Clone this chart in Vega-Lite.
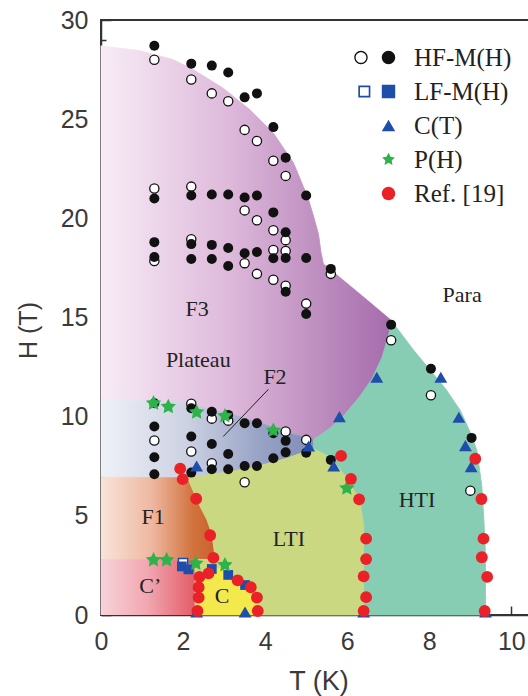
{
  "$schema": "https://vega.github.io/schema/vega-lite/v6.json",
  "width": 435,
  "height": 595,
  "autosize": "none",
  "padding": {"left": 101, "top": 20, "right": 0, "bottom": 81},
  "background": "white",
  "config": {"view": {"stroke": "#333", "strokeWidth": 2}},
  "datasets": {
    "regions": [
      {"r":"F3","i":0,"T":0,"H":10.9},{"r":"F3","i":1,"T":0,"H":28.7},{"r":"F3","i":2,"T":0.95,"H":28.45},{"r":"F3","i":3,"T":1.76,"H":28.0},{"r":"F3","i":4,"T":2.25,"H":27.5},{"r":"F3","i":5,"T":2.98,"H":26.56},{"r":"F3","i":6,"T":3.63,"H":25.47},{"r":"F3","i":7,"T":4.2,"H":24.3},{"r":"F3","i":8,"T":4.69,"H":22.8},{"r":"F3","i":9,"T":4.93,"H":21.6},{"r":"F3","i":10,"T":5.05,"H":21.0},{"r":"F3","i":11,"T":5.18,"H":20.1},{"r":"F3","i":12,"T":5.3,"H":19.2},{"r":"F3","i":13,"T":5.36,"H":18.3},{"r":"F3","i":14,"T":5.42,"H":17.7},{"r":"F3","i":15,"T":5.6,"H":17.4},{"r":"F3","i":16,"T":6.3,"H":16.2},{"r":"F3","i":17,"T":7.07,"H":14.86},{"r":"F3","i":18,"T":7.02,"H":14.2},{"r":"F3","i":19,"T":6.85,"H":13.0},{"r":"F3","i":20,"T":6.6,"H":11.9},{"r":"F3","i":21,"T":6.3,"H":11.0},{"r":"F3","i":22,"T":5.85,"H":9.9},{"r":"F3","i":23,"T":5.5,"H":9.3},{"r":"F3","i":24,"T":5.18,"H":8.85},{"r":"F3","i":25,"T":4.6,"H":9.15},{"r":"F3","i":26,"T":4.0,"H":9.6},{"r":"F3","i":27,"T":3.2,"H":10.1},{"r":"F3","i":28,"T":2.0,"H":10.7},
      {"r":"F2","i":0,"T":0,"H":6.95},{"r":"F2","i":1,"T":0,"H":10.9},{"r":"F2","i":2,"T":2.0,"H":10.7},{"r":"F2","i":3,"T":3.2,"H":10.1},{"r":"F2","i":4,"T":4.0,"H":9.6},{"r":"F2","i":5,"T":4.6,"H":9.15},{"r":"F2","i":6,"T":5.18,"H":8.85},{"r":"F2","i":7,"T":5.18,"H":8.4},{"r":"F2","i":8,"T":4.53,"H":7.9},{"r":"F2","i":9,"T":3.63,"H":7.4},{"r":"F2","i":10,"T":2.9,"H":7.15},{"r":"F2","i":11,"T":2.1,"H":6.92},
      {"r":"F1","i":0,"T":0,"H":2.8},{"r":"F1","i":1,"T":0,"H":6.95},{"r":"F1","i":2,"T":2.1,"H":6.92},{"r":"F1","i":3,"T":2.32,"H":5.86},{"r":"F1","i":4,"T":2.58,"H":4.8},{"r":"F1","i":5,"T":2.7,"H":4.1},{"r":"F1","i":6,"T":2.78,"H":2.9},{"r":"F1","i":7,"T":2.78,"H":2.8},
      {"r":"Cp","i":0,"T":0,"H":0},{"r":"Cp","i":1,"T":0,"H":2.8},{"r":"Cp","i":2,"T":2.29,"H":2.8},{"r":"Cp","i":3,"T":2.29,"H":0},
      {"r":"LTI","i":0,"T":2.1,"H":6.92},{"r":"LTI","i":1,"T":2.9,"H":7.15},{"r":"LTI","i":2,"T":3.63,"H":7.4},{"r":"LTI","i":3,"T":4.53,"H":7.9},{"r":"LTI","i":4,"T":5.18,"H":8.4},{"r":"LTI","i":5,"T":5.59,"H":7.98},{"r":"LTI","i":6,"T":5.99,"H":6.97},{"r":"LTI","i":7,"T":6.32,"H":5.8},{"r":"LTI","i":8,"T":6.42,"H":4.5},{"r":"LTI","i":9,"T":6.42,"H":0},{"r":"LTI","i":10,"T":2.29,"H":0},{"r":"LTI","i":11,"T":2.29,"H":2.8},{"r":"LTI","i":12,"T":2.78,"H":2.8},{"r":"LTI","i":13,"T":2.78,"H":2.9},{"r":"LTI","i":14,"T":2.7,"H":4.1},{"r":"LTI","i":15,"T":2.58,"H":4.8},{"r":"LTI","i":16,"T":2.32,"H":5.86},
      {"r":"C","i":0,"T":2.38,"H":0},{"r":"C","i":1,"T":2.38,"H":1.9},{"r":"C","i":2,"T":2.58,"H":2.1},{"r":"C","i":3,"T":2.78,"H":2.35},{"r":"C","i":4,"T":2.98,"H":2.35},{"r":"C","i":5,"T":3.23,"H":1.85},{"r":"C","i":6,"T":3.6,"H":1.4},{"r":"C","i":7,"T":3.8,"H":0.92},{"r":"C","i":8,"T":3.84,"H":0},
      {"r":"HTI","i":0,"T":5.18,"H":8.4},{"r":"HTI","i":1,"T":5.18,"H":8.85},{"r":"HTI","i":2,"T":5.5,"H":9.3},{"r":"HTI","i":3,"T":5.85,"H":9.9},{"r":"HTI","i":4,"T":6.3,"H":11.0},{"r":"HTI","i":5,"T":6.6,"H":11.9},{"r":"HTI","i":6,"T":6.85,"H":13.0},{"r":"HTI","i":7,"T":7.02,"H":14.2},{"r":"HTI","i":8,"T":7.07,"H":14.86},{"r":"HTI","i":9,"T":7.6,"H":13.4},{"r":"HTI","i":10,"T":8.02,"H":12.35},{"r":"HTI","i":11,"T":8.4,"H":11.4},{"r":"HTI","i":12,"T":8.76,"H":10.3},{"r":"HTI","i":13,"T":9.0,"H":9.2},{"r":"HTI","i":14,"T":9.16,"H":8.3},{"r":"HTI","i":15,"T":9.28,"H":6.5},{"r":"HTI","i":16,"T":9.33,"H":4.8},{"r":"HTI","i":17,"T":9.37,"H":3.0},{"r":"HTI","i":18,"T":9.37,"H":0},{"r":"HTI","i":19,"T":6.42,"H":0},{"r":"HTI","i":20,"T":6.42,"H":4.5},{"r":"HTI","i":21,"T":6.32,"H":5.8},{"r":"HTI","i":22,"T":5.99,"H":6.97},{"r":"HTI","i":23,"T":5.59,"H":7.98}
    ],
    "lead": [{"T":4.08,"H":11.38,"T2":2.98,"H2":9.0}],
    "labels": [
      {"txt":"F3","T":2.34,"H":15.43},{"txt":"Plateau","T":2.37,"H":12.86},{"txt":"F2","T":4.24,"H":12.0},{"txt":"Para","T":8.8,"H":16.14},{"txt":"HTI","T":7.7,"H":5.8},{"txt":"LTI","T":4.58,"H":3.83},{"txt":"F1","T":1.27,"H":4.94},{"txt":"C’","T":1.2,"H":1.46},{"txt":"C","T":2.95,"H":0.96}
    ],
    "pts": [
      {"s":"HF-M(H)","o":1,"T":1.3,"H":28.0},{"s":"HF-M(H)","o":1,"T":1.3,"H":21.5},{"s":"HF-M(H)","o":1,"T":1.3,"H":17.85},{"s":"HF-M(H)","o":1,"T":1.3,"H":8.8},
      {"s":"HF-M(H)","o":1,"T":2.2,"H":27.0},{"s":"HF-M(H)","o":1,"T":2.2,"H":21.6},{"s":"HF-M(H)","o":1,"T":2.2,"H":18.95},{"s":"HF-M(H)","o":1,"T":2.2,"H":10.65},{"s":"HF-M(H)","o":1,"T":2.2,"H":8.24},
      {"s":"HF-M(H)","o":1,"T":2.7,"H":26.3},{"s":"HF-M(H)","o":1,"T":2.7,"H":9.9},{"s":"HF-M(H)","o":1,"T":2.7,"H":7.65},
      {"s":"HF-M(H)","o":1,"T":3.1,"H":25.9},{"s":"HF-M(H)","o":1,"T":3.1,"H":9.8},
      {"s":"HF-M(H)","o":1,"T":3.5,"H":24.46},{"s":"HF-M(H)","o":1,"T":3.5,"H":20.4},{"s":"HF-M(H)","o":1,"T":3.5,"H":17.74},{"s":"HF-M(H)","o":1,"T":3.5,"H":6.69},
      {"s":"HF-M(H)","o":1,"T":3.8,"H":23.9},{"s":"HF-M(H)","o":1,"T":3.8,"H":19.9},{"s":"HF-M(H)","o":1,"T":3.8,"H":17.2},
      {"s":"HF-M(H)","o":1,"T":4.2,"H":22.9},{"s":"HF-M(H)","o":1,"T":4.2,"H":19.4},{"s":"HF-M(H)","o":1,"T":4.2,"H":18.4},{"s":"HF-M(H)","o":1,"T":4.2,"H":16.9},
      {"s":"HF-M(H)","o":1,"T":4.5,"H":22.14},{"s":"HF-M(H)","o":1,"T":4.5,"H":18.9},{"s":"HF-M(H)","o":1,"T":4.5,"H":18.35},{"s":"HF-M(H)","o":1,"T":4.5,"H":16.6},{"s":"HF-M(H)","o":1,"T":4.5,"H":9.25},
      {"s":"HF-M(H)","o":1,"T":5.0,"H":15.7},{"s":"HF-M(H)","o":1,"T":5.0,"H":8.83},{"s":"HF-M(H)","o":1,"T":5.6,"H":17.2},
      {"s":"HF-M(H)","o":1,"T":7.07,"H":13.85},{"s":"HF-M(H)","o":1,"T":8.04,"H":11.08},{"s":"HF-M(H)","o":1,"T":9.0,"H":6.27},
      {"s":"LF-M(H)","o":1,"T":2.0,"H":2.62},
      {"s":"HF-M(H)","o":0,"T":1.3,"H":28.7},{"s":"HF-M(H)","o":0,"T":1.3,"H":21.0},{"s":"HF-M(H)","o":0,"T":1.3,"H":18.8},{"s":"HF-M(H)","o":0,"T":1.3,"H":18.05},{"s":"HF-M(H)","o":0,"T":1.3,"H":10.68},{"s":"HF-M(H)","o":0,"T":1.3,"H":9.5},{"s":"HF-M(H)","o":0,"T":1.3,"H":7.95},{"s":"HF-M(H)","o":0,"T":1.3,"H":7.1},
      {"s":"HF-M(H)","o":0,"T":2.2,"H":27.8},{"s":"HF-M(H)","o":0,"T":2.2,"H":21.15},{"s":"HF-M(H)","o":0,"T":2.2,"H":18.7},{"s":"HF-M(H)","o":0,"T":2.2,"H":17.95},{"s":"HF-M(H)","o":0,"T":2.2,"H":10.42},{"s":"HF-M(H)","o":0,"T":2.2,"H":9.0},{"s":"HF-M(H)","o":0,"T":2.2,"H":7.18},
      {"s":"HF-M(H)","o":0,"T":2.7,"H":27.7},{"s":"HF-M(H)","o":0,"T":2.7,"H":21.2},{"s":"HF-M(H)","o":0,"T":2.7,"H":18.66},{"s":"HF-M(H)","o":0,"T":2.7,"H":17.95},{"s":"HF-M(H)","o":0,"T":2.7,"H":10.25},{"s":"HF-M(H)","o":0,"T":2.7,"H":8.62},{"s":"HF-M(H)","o":0,"T":2.7,"H":7.35},
      {"s":"HF-M(H)","o":0,"T":3.1,"H":27.35},{"s":"HF-M(H)","o":0,"T":3.1,"H":21.2},{"s":"HF-M(H)","o":0,"T":3.1,"H":18.5},{"s":"HF-M(H)","o":0,"T":3.1,"H":17.6},{"s":"HF-M(H)","o":0,"T":3.1,"H":10.09},{"s":"HF-M(H)","o":0,"T":3.1,"H":8.12},{"s":"HF-M(H)","o":0,"T":3.1,"H":7.35},
      {"s":"HF-M(H)","o":0,"T":3.5,"H":26.1},{"s":"HF-M(H)","o":0,"T":3.5,"H":21.05},{"s":"HF-M(H)","o":0,"T":3.5,"H":18.24},{"s":"HF-M(H)","o":0,"T":3.5,"H":9.67},{"s":"HF-M(H)","o":0,"T":3.5,"H":7.51},
      {"s":"HF-M(H)","o":0,"T":3.8,"H":26.3},{"s":"HF-M(H)","o":0,"T":3.8,"H":21.15},{"s":"HF-M(H)","o":0,"T":3.8,"H":18.3},{"s":"HF-M(H)","o":0,"T":3.8,"H":9.67},{"s":"HF-M(H)","o":0,"T":3.8,"H":7.51},
      {"s":"HF-M(H)","o":0,"T":4.2,"H":24.6},{"s":"HF-M(H)","o":0,"T":4.2,"H":20.3},{"s":"HF-M(H)","o":0,"T":4.2,"H":17.99},{"s":"HF-M(H)","o":0,"T":4.2,"H":9.16},{"s":"HF-M(H)","o":0,"T":4.2,"H":7.9},
      {"s":"HF-M(H)","o":0,"T":4.5,"H":23.06},{"s":"HF-M(H)","o":0,"T":4.5,"H":19.3},{"s":"HF-M(H)","o":0,"T":4.5,"H":18.0},{"s":"HF-M(H)","o":0,"T":4.5,"H":16.3},{"s":"HF-M(H)","o":0,"T":4.5,"H":8.78},{"s":"HF-M(H)","o":0,"T":4.5,"H":8.2},
      {"s":"HF-M(H)","o":0,"T":5.0,"H":21.15},{"s":"HF-M(H)","o":0,"T":5.0,"H":18.0},{"s":"HF-M(H)","o":0,"T":5.0,"H":15.18},{"s":"HF-M(H)","o":0,"T":5.0,"H":8.18},
      {"s":"HF-M(H)","o":0,"T":5.6,"H":17.45},{"s":"HF-M(H)","o":0,"T":5.6,"H":7.82},
      {"s":"HF-M(H)","o":0,"T":7.07,"H":14.64},{"s":"HF-M(H)","o":0,"T":8.04,"H":12.42},{"s":"HF-M(H)","o":0,"T":9.03,"H":8.93},
      {"s":"LF-M(H)","o":0,"T":1.97,"H":2.45},{"s":"LF-M(H)","o":0,"T":2.13,"H":2.3},{"s":"LF-M(H)","o":0,"T":2.7,"H":2.32},{"s":"LF-M(H)","o":0,"T":3.1,"H":2.02},{"s":"LF-M(H)","o":0,"T":3.51,"H":1.51},
      {"s":"C(T)","o":0,"T":2.33,"H":7.51},{"s":"C(T)","o":0,"T":5.06,"H":8.52},{"s":"C(T)","o":0,"T":5.67,"H":7.51},{"s":"C(T)","o":0,"T":5.81,"H":10.0},{"s":"C(T)","o":0,"T":6.72,"H":11.99},{"s":"C(T)","o":0,"T":8.28,"H":11.99},{"s":"C(T)","o":0,"T":8.72,"H":9.97},{"s":"C(T)","o":0,"T":8.88,"H":8.54},{"s":"C(T)","o":0,"T":9.02,"H":7.48},{"s":"C(T)","o":0,"T":2.33,"H":0.15},{"s":"C(T)","o":0,"T":3.51,"H":0.15},{"s":"C(T)","o":0,"T":6.4,"H":0.15},{"s":"C(T)","o":0,"T":9.37,"H":0.15},
      {"s":"P(H)","o":0,"T":1.28,"H":10.68},{"s":"P(H)","o":0,"T":1.64,"H":10.5},{"s":"P(H)","o":0,"T":2.33,"H":10.22},{"s":"P(H)","o":0,"T":3.02,"H":10.03},{"s":"P(H)","o":0,"T":4.2,"H":9.3},{"s":"P(H)","o":0,"T":5.99,"H":6.39},{"s":"P(H)","o":0,"T":1.28,"H":2.77},{"s":"P(H)","o":0,"T":1.6,"H":2.77},{"s":"P(H)","o":0,"T":2.31,"H":2.6},{"s":"P(H)","o":0,"T":3.02,"H":2.52},
      {"s":"Ref. [19]","o":0,"T":1.93,"H":7.38},{"s":"Ref. [19]","o":0,"T":1.99,"H":6.85},{"s":"Ref. [19]","o":0,"T":2.32,"H":5.86},{"s":"Ref. [19]","o":0,"T":2.66,"H":4.02},{"s":"Ref. [19]","o":0,"T":2.74,"H":2.88},
      {"s":"Ref. [19]","o":0,"T":2.4,"H":1.92},{"s":"Ref. [19]","o":0,"T":2.38,"H":1.4},{"s":"Ref. [19]","o":0,"T":2.38,"H":0.88},{"s":"Ref. [19]","o":0,"T":2.35,"H":0.2},{"s":"Ref. [19]","o":0,"T":2.62,"H":2.1},{"s":"Ref. [19]","o":0,"T":3.33,"H":1.75},{"s":"Ref. [19]","o":0,"T":3.65,"H":1.4},{"s":"Ref. [19]","o":0,"T":3.8,"H":0.88},{"s":"Ref. [19]","o":0,"T":3.82,"H":0.2},
      {"s":"Ref. [19]","o":0,"T":5.85,"H":8.02},{"s":"Ref. [19]","o":0,"T":6.09,"H":6.86},{"s":"Ref. [19]","o":0,"T":6.29,"H":5.83},{"s":"Ref. [19]","o":0,"T":6.46,"H":3.85},{"s":"Ref. [19]","o":0,"T":6.46,"H":2.82},{"s":"Ref. [19]","o":0,"T":6.4,"H":1.95},{"s":"Ref. [19]","o":0,"T":6.46,"H":0.9},{"s":"Ref. [19]","o":0,"T":6.4,"H":0.2},
      {"s":"Ref. [19]","o":0,"T":9.12,"H":7.88},{"s":"Ref. [19]","o":0,"T":9.27,"H":5.85},{"s":"Ref. [19]","o":0,"T":9.32,"H":3.85},{"s":"Ref. [19]","o":0,"T":9.28,"H":2.91},{"s":"Ref. [19]","o":0,"T":9.41,"H":1.92},{"s":"Ref. [19]","o":0,"T":9.35,"H":0.2}
    ]
  },
  "encoding": {
    "x": {"field": "T", "type": "quantitative", "scale": {"domain": [0, 10.6], "nice": false, "zero": false},
      "axis": {"title": "T (K)", "values": [0,1,2,3,4,5,6,7,8,9,10], "labelExpr": "datum.value % 2 === 0 ? datum.label : ''",
        "tickSize": {"condition": {"test": "datum.value % 2 === 0", "value": -9}, "value": -5},
        "labelPadding": 23, "titlePadding": 10, "grid": false, "labelFlush": false, "labelOverlap": false,
        "domainColor": "#333", "domainWidth": 1.5, "tickColor": "#333", "tickWidth": 1.5,
        "labelFont": "Liberation Sans", "labelFontSize": 25, "labelColor": "#3a3a3a",
        "titleFont": "Liberation Sans", "titleFontSize": 27, "titleColor": "#3a3a3a", "titleFontWeight": "normal"}},
    "y": {"field": "H", "type": "quantitative", "scale": {"domain": [0, 30], "nice": false, "zero": false},
      "axis": {"title": "H (T)", "values": [0,1,2,3,4,5,6,7,8,9,10,11,12,13,14,15,16,17,18,19,20,21,22,23,24,25,26,27,28,29,30], "labelExpr": "datum.value % 5 === 0 ? datum.label : ''",
        "tickSize": {"condition": {"test": "datum.value % 5 === 0", "value": -10}, "value": -5},
        "labelPadding": 23, "titlePadding": 19, "titleY": 310, "grid": false, "labelFlush": false, "labelOverlap": false,
        "domainColor": "#333", "domainWidth": 1.5, "tickColor": "#333", "tickWidth": 1.5,
        "labelFont": "Liberation Sans", "labelFontSize": 25, "labelColor": "#3a3a3a",
        "titleFont": "Liberation Sans", "titleFontSize": 25, "titleColor": "#3a3a3a", "titleFontWeight": "normal"}}
  },
  "layer": [
    {"data": {"name": "regions"}, "transform": [{"filter": "datum.r === 'F3'"}],
     "mark": {"type": "line", "interpolate": "linear", "strokeWidth": 0.8,
       "fill": {"gradient": "linear", "x1": 0, "y1": 0, "x2": 1, "y2": 0, "stops": [{"offset": 0, "color": "#f8ecf6"}, {"offset": 0.45, "color": "#ddb8da"}, {"offset": 0.75, "color": "#bd8ebf"}, {"offset": 1, "color": "#a66cad"}]},
       "stroke": {"gradient": "linear", "x1": 0, "y1": 0, "x2": 1, "y2": 0, "stops": [{"offset": 0, "color": "#f8ecf6"}, {"offset": 0.45, "color": "#ddb8da"}, {"offset": 0.75, "color": "#bd8ebf"}, {"offset": 1, "color": "#a66cad"}]}},
     "encoding": {"order": {"field": "i", "type": "quantitative"}}},
    {"data": {"name": "regions"}, "transform": [{"filter": "datum.r === 'F2'"}],
     "mark": {"type": "line", "interpolate": "linear", "strokeWidth": 0.8,
       "fill": {"gradient": "linear", "x1": 0, "y1": 0, "x2": 1, "y2": 0, "stops": [{"offset": 0, "color": "#eff1f7"}, {"offset": 0.4, "color": "#cdd2e3"}, {"offset": 0.75, "color": "#97a2c5"}, {"offset": 1, "color": "#808db8"}]},
       "stroke": {"gradient": "linear", "x1": 0, "y1": 0, "x2": 1, "y2": 0, "stops": [{"offset": 0, "color": "#eff1f7"}, {"offset": 0.4, "color": "#cdd2e3"}, {"offset": 0.75, "color": "#97a2c5"}, {"offset": 1, "color": "#808db8"}]}},
     "encoding": {"order": {"field": "i", "type": "quantitative"}}},
    {"data": {"name": "regions"}, "transform": [{"filter": "datum.r === 'F1'"}],
     "mark": {"type": "line", "interpolate": "linear", "strokeWidth": 0.8,
       "fill": {"gradient": "linear", "x1": 0, "y1": 0, "x2": 1, "y2": 0, "stops": [{"offset": 0, "color": "#f9e4da"}, {"offset": 0.45, "color": "#eeb7a0"}, {"offset": 0.8, "color": "#d2743f"}, {"offset": 1, "color": "#c8612c"}]},
       "stroke": {"gradient": "linear", "x1": 0, "y1": 0, "x2": 1, "y2": 0, "stops": [{"offset": 0, "color": "#f9e4da"}, {"offset": 0.45, "color": "#eeb7a0"}, {"offset": 0.8, "color": "#d2743f"}, {"offset": 1, "color": "#c8612c"}]}},
     "encoding": {"order": {"field": "i", "type": "quantitative"}}},
    {"data": {"name": "regions"}, "transform": [{"filter": "datum.r === 'Cp'"}],
     "mark": {"type": "line", "interpolate": "linear", "strokeWidth": 0.8,
       "fill": {"gradient": "linear", "x1": 0, "y1": 0, "x2": 1, "y2": 0, "stops": [{"offset": 0, "color": "#f8d3da"}, {"offset": 0.5, "color": "#f1a6b0"}, {"offset": 1, "color": "#e25c67"}]},
       "stroke": {"gradient": "linear", "x1": 0, "y1": 0, "x2": 1, "y2": 0, "stops": [{"offset": 0, "color": "#f8d3da"}, {"offset": 0.5, "color": "#f1a6b0"}, {"offset": 1, "color": "#e25c67"}]}},
     "encoding": {"order": {"field": "i", "type": "quantitative"}}},
    {"data": {"name": "regions"}, "transform": [{"filter": "datum.r === 'LTI'"}],
     "mark": {"type": "line", "interpolate": "linear", "strokeWidth": 0.8, "fill": "#cad981", "stroke": "#cad981"},
     "encoding": {"order": {"field": "i", "type": "quantitative"}}},
    {"data": {"name": "regions"}, "transform": [{"filter": "datum.r === 'C'"}],
     "mark": {"type": "line", "interpolate": "linear", "strokeWidth": 0.8, "fill": "#f4e94c", "stroke": "#f4e94c"},
     "encoding": {"order": {"field": "i", "type": "quantitative"}}},
    {"data": {"name": "regions"}, "transform": [{"filter": "datum.r === 'HTI'"}],
     "mark": {"type": "line", "interpolate": "linear", "strokeWidth": 0.8, "fill": "#86cdb4", "stroke": "#86cdb4"},
     "encoding": {"order": {"field": "i", "type": "quantitative"}}},
    {"data": {"name": "lead"}, "mark": {"type": "rule", "color": "#222", "strokeWidth": 1},
     "encoding": {"x2": {"field": "T2"}, "y2": {"field": "H2"}}},
    {"data": {"name": "pts"}, "transform": [{"filter": "datum.o === 1 && datum.s === 'HF-M(H)'"}],
     "mark": {"type": "point", "shape": "circle", "filled": true, "fill": "white", "stroke": "#111111", "strokeWidth": 1.3, "size": 85, "opacity": 1}},
    {"data": {"name": "pts"}, "transform": [{"filter": "datum.o === 1 && datum.s === 'LF-M(H)'"}],
     "mark": {"type": "point", "shape": "square", "filled": true, "fill": "white", "stroke": "#1f4eaa", "strokeWidth": 1.5, "size": 85, "opacity": 1}},
    {"data": {"name": "pts"}, "transform": [{"filter": "datum.o === 0 && datum.s === 'HF-M(H)'"}],
     "mark": {"type": "point", "shape": "circle", "filled": true, "color": "#111111", "opacity": 1, "size": 100}},
    {"data": {"name": "pts"}, "transform": [{"filter": "datum.o === 0 && datum.s === 'LF-M(H)'"}],
     "mark": {"type": "point", "shape": "square", "filled": true, "color": "#1f4eaa", "opacity": 1, "size": 95}},
    {"data": {"name": "pts"}, "transform": [{"filter": "datum.o === 0 && datum.s === 'C(T)'"}],
     "mark": {"type": "point", "shape": "triangle-up", "filled": true, "color": "#1f4eaa", "opacity": 1, "size": 165}},
    {"data": {"name": "pts"}, "transform": [{"filter": "datum.o === 0 && datum.s === 'P(H)'"}],
     "mark": {"type": "point", "shape": "M0,-1L0.294,-0.405L0.951,-0.309L0.476,0.155L0.588,0.809L0,0.5L-0.588,0.809L-0.476,0.155L-0.951,-0.309L-0.294,-0.405Z", "filled": true, "color": "#2db34a", "opacity": 1, "size": 260}},
    {"data": {"name": "pts"}, "transform": [{"filter": "datum.o === 0 && datum.s === 'Ref. [19]'"}],
     "mark": {"type": "point", "shape": "circle", "filled": true, "color": "#ea2127", "opacity": 1, "size": 140}},
    {"data": {"name": "pts"}, "transform": [{"filter": "datum.T < 0"}],
     "mark": {"type": "point", "filled": true, "opacity": 1},
     "encoding": {
       "color": {"field": "s", "type": "nominal",
         "scale": {"domain": ["HF-M(H)", "LF-M(H)", "C(T)", "P(H)", "Ref. [19]"], "range": ["#111111", "#1f4eaa", "#1f4eaa", "#2db34a", "#ea2127"]},
         "legend": {"orient": "none", "legendX": 275, "legendY": 25, "title": null, "symbolSize": 180, "padding": 0,
           "labelFont": "Liberation Serif", "labelFontSize": 25, "labelColor": "#222", "rowPadding": 8, "labelOffset": 13, "symbolStrokeWidth": 0}},
       "shape": {"field": "s", "type": "nominal",
         "scale": {"domain": ["HF-M(H)", "LF-M(H)", "C(T)", "P(H)", "Ref. [19]"],
           "range": ["M1,0A1,1,0,1,1,-1,0A1,1,0,1,1,1,0ZM-3.1,0A1,1,0,1,1,-5.1,0A1,1,0,1,1,-3.1,0ZM-3.3,0A0.8,0.8,0,1,0,-4.9,0A0.8,0.8,0,1,0,-3.3,0Z",
                     "M-1,-1H1V1H-1ZM-4.5,-0.9H-2.7V0.9H-4.5ZM-4.25,-0.65V0.65H-2.95V-0.65Z",
                     "triangle-up",
                     "M0,-1L0.294,-0.405L0.951,-0.309L0.476,0.155L0.588,0.809L0,0.5L-0.588,0.809L-0.476,0.155L-0.951,-0.309L-0.294,-0.405Z",
                     "circle"]},
         "legend": {"orient": "none", "legendX": 275, "legendY": 25, "title": null}}}},
    {"data": {"name": "labels"},
     "mark": {"type": "text", "font": "Liberation Serif", "fontSize": 22, "color": "#222", "align": "center", "baseline": "middle"},
     "encoding": {"text": {"field": "txt"}}}
  ]
}
